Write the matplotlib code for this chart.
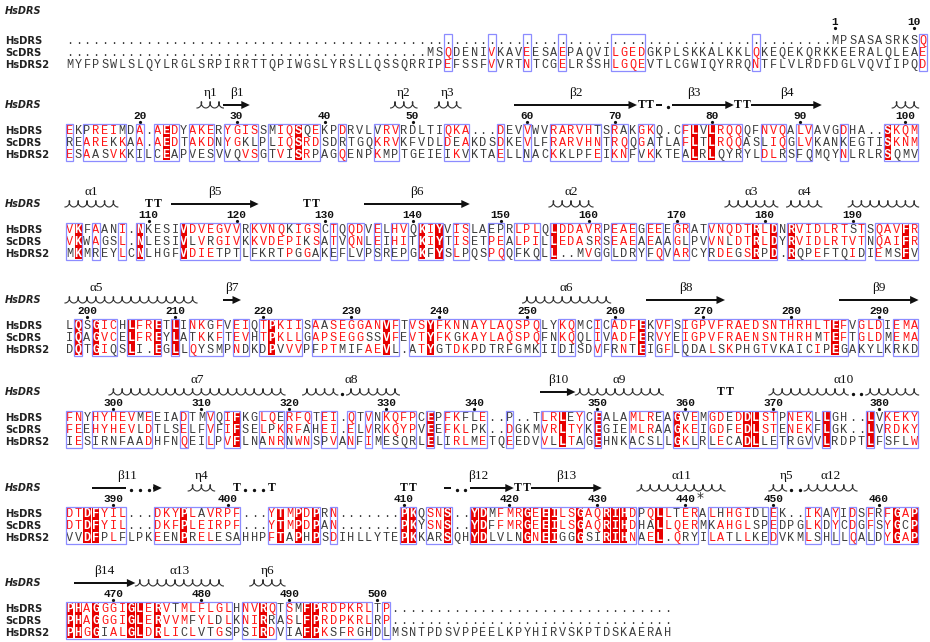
import matplotlib
matplotlib.use("Agg")
import matplotlib.pyplot as plt
from matplotlib.patches import Rectangle, Polygon
import numpy as np

# aligned sequences, one string per block of the alignment
hs_drs = [
    "." * 87 + "MPSASASRKSQ",
    "EKPREIMDA.AEDYAKERYGISSMIQSQEKPDRVLVRVRDLTIQKA...DEVVWVRARVHTSRAKGKQ.CFLVLRQQQFNVQALVAVGDHA..SKQM",
    "VKFAANI.NKESIVDVEGVVRKVNQKIGSCTQQDVELHVQKIYVISLAEPRLPLQLDDAVRPEAEGEEEGRATVNQDTRLDNRVIDLRTSTSQAVFR",
    "LQSGICHLFRETLINKGFVEIQTPKIISAASEGGANVFTVSYFKNNAYLAQSPQLYKQMCICADFEKVFSIGPVFRAEDSNTHRHLTEFVGLDIEMA",
    "FNYHYHEVMEEIADTMVQIFKGLQERFQTEI.QTVNKQFPCEPFKFLE..P..TLRLEYCEALAMLREAGVEMGDEDDLSTPNEKLLGH..LVKEKY",
    "DTDFYIL...DKYPLAVRPF...YTMPDPRN.......PKQSNS..YDMFMRGEEILSGAQRIHDPQLLTERALHHGIDLEK..IKAYIDSFRFGAP",
    "PHAGGGIGLERVTMLFLGLHNVRQTSMFPRDPKRLTP" + "." * 32,
]
sc_drs = [
    "." * 41 + "MSQDENIVKAVEESAEPAQVILGEDGKPLSKKALKKLQKEQEKQRKKEERALQLEAE",
    "REAREKKAA.AEDTAKDNYGKLPLIQSRDSDRTGQKRVKFVDLDEAKDSDKEVLFRARVHNTRQQGATLAFLTLRQQASLIQGLVKANKEGTISKNM",
    "VKWAGSL.NLESIVLVRGIVKKVDEPIKSATVQNLEIHITKIYTISETPEALPILLEDASRSEAEAEAAGLPVVNLDTRLDYRVIDLRTVTNQAIFR",
    "IQAGVCELFREYLATKKFTEVHTPKLLGAPSEGGSSVFEVTYFKGKAYLAQSPQFNKQQLIVADFERVYEIGPVFRAENSNTHRHMTEFTGLDMEMA",
    "FEEHYHEVLDTLSELFVFIFSELPKRFAHEI.ELVRKQYPVEEFKLPK..DGKMVRLTYKEGIEMLRAAGKEIGDFEDLSTENEKFLGK..LVRDKY",
    "DTDFYIL...DKFPLEIRPF...YTMPDPAN.......PKYSNS..YDFFMRGEEILSGAQRIHDHALLQERMKAHGLSPEDPGLKDYCDGFSYGCP",
    "PHAGGGIGLERVVMFYLDLKNIRRASLFPRDPKRLRP" + "." * 32,
]
hs_drs2 = [
    "MYFPSWLSLQYLRGLSRPIRRTTQPIWGSLYRSLLQSSQRRIPEFSSFVVRTNTCGELRSSHLGQEVTLCGWIQYRRQNTFLVLRDFDGLVQVIIPQD",
    "ESAASVKKILCEAPVESVVQVSGTVISRPAGQENPKMPTGEIEIKVKTAELLNACKKLPFEIKNFVKKTEALRLQYRYLDLRSFQMQYNLRLRSQMV",
    "MKMREYLCNLHGFVDIETPTLFKRTPGGAKEFLVPSREPGKFYSLPQSPQQFKQLL..MVGGLDRYFQVARCYRDEGSRPD.RQPEFTQIDIEMSFV",
    "DQTGIQSLI.EGLLQYSMPNDKDPVVVPFPTMIFAEVL.ATYGTDKPDTRFGMKIIDISDVFRNTEIGFLQDALSKPHGTVKAICIPEGAKYLKRKD",
    "IESIRNFAADHFNQEILPVFLNANRNWNSPVANFIMESQRLELIRLMETQEEDVVLLTAGEHNKACSLLGKLRLECADLLETRGVVLRDPTLFSFLW",
    "VVDFPLFLPKEENPRELESAHHPFTAPHPSDIHLLYTEPKKARSQHYDLVLNGNEIGGGSIRIHNAEL.QRYILATLLKEDVKMLSHLLQALDYGAP",
    "PHGGIALGLDRLICLVTGSPSIRDVIAFPKSFRGHDLMSNTPDSVPPEELKPYHIRVSKPTDSKAERAH",
]
row_names = ["HsDRS", "ScDRS", "HsDRS2"]

# runs of similar columns (first, last), per block
boxes = [
    [(44, 44), (49, 49), (53, 53), (57, 57), (63, 66), (79, 79), (98, 98)],
    [(1, 1), (3, 7), (9, 9), (11, 13), (15, 17), (19, 22), (24, 29), (32, 32), (36, 38),
     (44, 46), (50, 50), (53, 53), (56, 61), (63, 64), (66, 67), (71, 77), (80, 82),
     (84, 85), (89, 89), (94, 97)],
    [(1, 2), (4, 4), (7, 7), (9, 9), (14, 20), (22, 29), (31, 31), (33, 34), (36, 36),
     (38, 39), (41, 43), (45, 46), (49, 50), (52, 54), (56, 61), (63, 65), (67, 68),
     (70, 71), (74, 81), (83, 91), (93, 97)],
    [(2, 2), (4, 6), (8, 11), (13, 13), (15, 18), (20, 21), (23, 27), (29, 38), (40, 54),
     (57, 58), (61, 61), (63, 66), (68, 69), (71, 89), (91, 93), (95, 97)],
    [(1, 2), (4, 10), (14, 14), (17, 17), (19, 20), (23, 25), (26, 28), (30, 31), (33, 33),
     (35, 35), (37, 40), (42, 42), (44, 48), (51, 51), (55, 59), (61, 61), (65, 68),
     (70, 72), (74, 81), (83, 85), (87, 87), (92, 92), (94, 97)],
    [(1, 7), (11, 20), (24, 29), (31, 31), (39, 40), (42, 44), (47, 65), (66, 72), (74, 80),
     (81, 81), (85, 86), (88, 88), (90, 90), (92, 92), (94, 97)],
    [(1, 19), (21, 24), (26, 35), (37, 37)],
]

# secondary structure of HsDRS: (kind, first col, last col, label)
structure = [
    [],
    [("helix", 16, 18, "η1"), ("strand", 19, 21, "β1"), ("helix", 38, 40, "η2"),
     ("helix", 43, 45, "η3"), ("strand", 52, 65, "β2"), ("turn", 66, 67, ""),
     ("strand", 68, 76, "β3"), ("turn", 77, 78, ""), ("strand", 79, 86, "β4"),
     ("helix", 95, 97, "")],
    [("helix", 1, 6, "α1"), ("turn", 10, 11, ""), ("strand", 13, 22, "β5"),
     ("turn", 28, 29, ""), ("strand", 35, 46, "β6"), ("helix", 56, 60, "α2"),
     ("helix", 76, 81, "α3"), ("helix", 83, 86, "α4"), ("helix", 90, 97, "")],
    [("helix", 1, 15, "α5"), ("strand", 19, 20, "β7"), ("helix", 53, 62, "α6"),
     ("strand", 67, 75, "β8"), ("strand", 89, 97, "β9")],
    [("helix", 6, 25, "α7"), ("helix", 28, 38, "α8"), ("strand", 55, 58, "β10"),
     ("helix", 59, 68, "α9"), ("turn", 75, 76, ""), ("helix", 81, 97, "α10")],
    [("strand", 4, 11, "β11"), ("helix", 15, 17, "η4"), ("turn", 20, 24, ""),
     ("turn", 39, 40, ""), ("strand", 44, 51, "β12"), ("turn", 52, 53, ""),
     ("strand", 54, 61, "β13"), ("helix", 66, 75, "α11"), ("helix", 81, 84, "η5"),
     ("helix", 85, 90, "α12")],
    [("strand", 2, 8, "β14"), ("helix", 9, 18, "α13"), ("helix", 22, 25, "η6")],
]
starred = [440]

groups = ["ILV", "FYW", "KR", "DENQ", "ST", "AG"]

RED = "#ff1414"
FILL = "#e80000"
DARK = "#3c3c3c"
BOXC = "#8c8cff"
COLW = 8.8
X0 = 65
ROW = 12
row_y = [41, 131, 230, 326, 418, 514, 609]
label_col = {"α5": 4.1}


def cx(c):
    return X0 + (c - 0.5) * COLW


def similar(a, b):
    if a == b:
        return True
    return any(a in g and b in g for g in groups)


def coil(a, e, y):
    # one loop per residue, drawn as a prolate cycloid sitting on y
    n = e - a + 1
    t = np.linspace(np.pi, np.pi + 2 * np.pi * n, 60 * n)
    rr = COLW / (2 * np.pi)
    xs = cx(a) - COLW / 2 + rr * (t - np.pi) - 2.0 * np.sin(t)
    ys = y + 3.0 - 3.2 * (1 + np.cos(t))
    ax.plot(xs, ys, color="#333", lw=0.8)


fig = plt.figure(figsize=(9.3, 6.42), dpi=100)
ax = fig.add_axes([0, 0, 1, 1])
ax.set_xlim(0, 930)
ax.set_ylim(642, 0)
ax.axis("off")

seq_font = dict(family="Liberation Mono", fontsize=8.6)
num_font = dict(family="Liberation Mono", fontsize=8, fontweight="bold")

residue = 0
for b in range(7):
    seqs = [hs_drs[b], sc_drs[b], hs_drs2[b]]
    y1 = row_y[b]
    top = y1 - 7
    bot = y1 + 2 * ROW + 6
    ncol = max(len(s) for s in seqs)
    boxed = set()
    for c0, c1 in boxes[b]:
        boxed.update(range(c0, c1 + 1))
        ax.add_patch(Rectangle((cx(c0) - COLW / 2 + 0.6, top), (c1 - c0 + 1) * COLW - 1.2,
                               bot - top, fill=False, ec=BOXC, lw=0.9, zorder=3))

    for c in range(1, ncol + 1):
        col = [s[c - 1] if c <= len(s) else " " for s in seqs]
        ident = col[0] != "." and col.count(col[0]) == 3
        if ident:
            ax.add_patch(Rectangle((cx(c) - COLW / 2 + 0.8, top + 1), COLW - 1.6, bot - top - 2,
                                   color=FILL, lw=0, zorder=1))
        for r, ch in enumerate(col):
            if ch == " ":
                continue
            if ident:
                color, weight = "white", "bold"
            elif c in boxed and ch != "." and any(
                    similar(ch, o) for k, o in enumerate(col) if k != r and o not in ". "):
                color, weight = RED, "normal"
            else:
                color, weight = DARK, "normal"
            ax.text(cx(c), y1 + r * ROW, ch, ha="center", va="center", color=color,
                    fontweight=weight, zorder=2, **seq_font)

    # residue numbering of HsDRS
    ny = y1 - (19 if b == 0 else 15)
    for c, ch in enumerate(hs_drs[b], start=1):
        if ch == ".":
            continue
        residue += 1
        if residue == 1 or residue % 10 == 0:
            ax.text(cx(c), ny, str(residue), ha="center", va="center", color="#111", **num_font)
            ax.plot(cx(c), ny + 6, "o", ms=1.3, color="#111")
            if residue in starred:
                ax.text(cx(c) + 15, ny - 1, "*", ha="center", va="center", color="#333",
                        fontsize=10, family="DejaVu Sans")

    for r, name in enumerate(row_names):
        ax.text(5, y1 + r * ROW, name, ha="left", va="center", fontsize=7.2,
                fontweight="bold", family="DejaVu Sans", color="#222")

    sy = 11 if b == 0 else y1 - 26
    ax.text(5, sy, "HsDRS", ha="left", va="center", fontsize=7, fontweight="bold",
            style="italic", family="DejaVu Sans", color="#222")

    # secondary structure elements
    for kind, c0, c1, label in structure[b]:
        gaps = [c for c in range(c0, c1 + 1) if hs_drs[b][c - 1] == "."]
        runs = []
        for c in range(c0, c1 + 1):
            if c in gaps:
                continue
            if runs and runs[-1][1] == c - 1:
                runs[-1][1] = c
            else:
                runs.append([c, c])
        for c in gaps:
            ax.plot(cx(c), sy + 2, "o", ms=1.4, color="#111")
        if kind == "turn":
            for c in range(c0, c1 + 1):
                if c not in gaps:
                    ax.text(cx(c), sy, "T", ha="center", va="center", fontsize=8.5,
                            fontweight="bold", family="Liberation Serif", color="#111")
        elif kind == "strand":
            for i, (a, e) in enumerate(runs):
                xa = cx(a) - COLW / 2
                xe = cx(e) + COLW / 2
                if i == len(runs) - 1:
                    hl = 8.5
                    ax.add_patch(Rectangle((xa, sy - 1.4), max(xe - hl - xa, 0) + 0.5, 2.8,
                                           color="#111", lw=0))
                    ax.add_patch(Polygon([(xe - hl, sy - 4), (xe, sy), (xe - hl, sy + 4)],
                                         closed=True, color="#111", lw=0))
                else:
                    ax.add_patch(Rectangle((xa + 1, sy - 1.4), xe - xa - 2, 2.8,
                                           color="#111", lw=0))
        else:
            for a, e in runs:
                coil(a, e, sy)
        if label:
            lc = label_col.get(label, (c0 + c1) / 2)
            ax.text(cx(lc), y1 - 38, label, ha="center", va="center", fontsize=9.5,
                    family="Liberation Serif", color="#111")

fig.savefig("out.png", dpi=100)
